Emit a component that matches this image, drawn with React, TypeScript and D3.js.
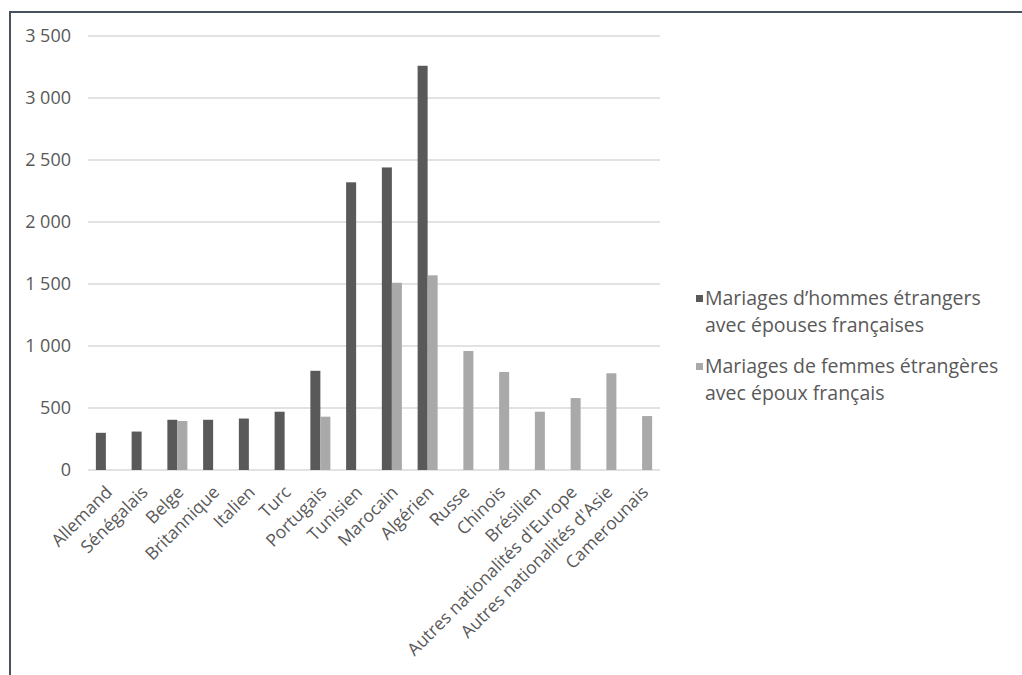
import React from "react";
import * as d3 from "d3";

const categories = [
  "Allemand", "Sénégalais", "Belge", "Britannique", "Italien", "Turc", "Portugais",
  "Tunisien", "Marocain", "Algérien", "Russe", "Chinois", "Brésilien",
  "Autres nationalités d'Europe", "Autres nationalités d'Asie", "Camerounais",
];
const menValues: (number | null)[] = [300, 310, 405, 405, 415, 470, 800, 2320, 2440, 3260, null, null, null, null, null, null];
const womenValues: (number | null)[] = [null, null, 395, null, null, null, 430, null, 1510, 1570, 960, 790, 470, 580, 780, 435];
const seriesNames = [
  ["Mariages d\u2019hommes étrangers", "avec épouses françaises"],
  ["Mariages de femmes étrangères", "avec époux français"],
];
const yTicks = [0, 500, 1000, 1500, 2000, 2500, 3000, 3500];

const W = 1022, H = 675;
const FONT = "'Open Sans', sans-serif";
const TXT = "#595959";
const COLORS = ["#595959", "#a9a9a9"];

export default function App() {
  const left = 88, right = 660, top = 36, bottom = 470;
  const y = d3.scaleLinear().domain([0, 3500]).range([bottom, top]);
  const p = 0.44;
  const x = d3.scaleBand<string>().domain(categories).range([left, right]).paddingInner(p).paddingOuter(p / 2);
  const x1 = d3.scaleBand<string>().domain(["0", "1"]).range([0, x.bandwidth()]);
  const series = [menValues, womenValues];
  const fmt = (v: number) => d3.format(",")(v).replace(/,/g, " ");

  return (
    <svg width={W} height={H} style={{ position: "absolute", left: 0, top: 0, background: "#fff" }}>
      <rect x={10} y={12} width={W} height={H} fill="#fff" stroke="#47525c" strokeWidth={2} />
      {yTicks.map((t) => (
        <g key={t}>
          <line x1={left} x2={right} y1={y(t)} y2={y(t)} stroke="#d9d9d9" strokeWidth={1.5} />
          <text x={71} y={y(t)} dy="0.35em" textAnchor="end" fontFamily={FONT} fontSize={18} fill={TXT}>
            {fmt(t)}
          </text>
        </g>
      ))}
      {series.map((vals, si) =>
        vals.map((v, i) =>
          v == null ? null : (
            <rect
              key={`${si}-${i}`}
              x={(x(categories[i]) as number) + (x1(String(si)) as number)}
              y={y(v)}
              width={x1.bandwidth()}
              height={y(0) - y(v)}
              fill={COLORS[si]}
            />
          )
        )
      )}
      {categories.map((c) => {
        const cx = (x(c) as number) + x.bandwidth() / 2;
        return (
          <text
            key={c}
            transform={`translate(${cx + 3},${bottom + 19}) rotate(-45)`}
            textAnchor="end"
            dy="0.35em"
            fontFamily={FONT}
            fontSize={17.5}
            fill={TXT}
          >
            {c}
          </text>
        );
      })}
      {seriesNames.map((lines, si) => {
        const y0 = 298 + si * 68;
        return (
          <g key={si}>
            <rect x={696} y={y0 - 3} width={7} height={7} fill={COLORS[si]} />
            {lines.map((l, li) => (
              <text key={li} x={705} y={y0 + li * 27} dy="0.35em" fontFamily={FONT} fontSize={19.5} fill={TXT}>
                {l}
              </text>
            ))}
          </g>
        );
      })}
    </svg>
  );
}
